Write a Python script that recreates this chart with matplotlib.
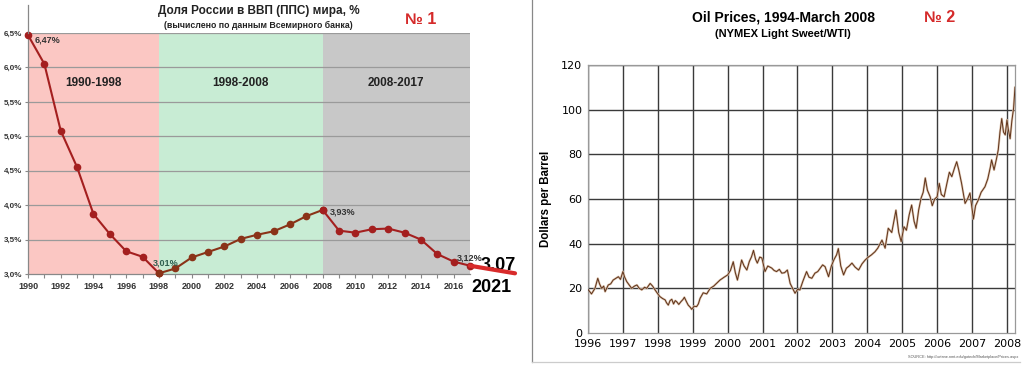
''' Russia share of world GDP (PPP) next to oil prices 1996-2008 '''
import matplotlib.pyplot as plt
from matplotlib.lines import Line2D

plt.rcParams['font.family'] = ['Liberation Sans', 'DejaVu Sans']

# Chart 1: Russia's share of world GDP (PPP), %
years = list(range(1990, 2018))
share = [6.47, 6.05, 5.08, 4.55, 3.87, 3.58, 3.33, 3.25, 3.01, 3.08,
         3.24, 3.32, 3.40, 3.51, 3.57, 3.62, 3.72, 3.84, 3.93, 3.63,
         3.60, 3.65, 3.66, 3.60, 3.50, 3.29, 3.18, 3.12]
periods = [(1990, 1998, '1990-1998'), (1998, 2008, '1998-2008'), (2008, 2017, '2008-2017')]
period_colors = ['#fbc7c3', '#c8ecd4', '#c8c8c8']
ext_x = [2017, 2019.75]     # hand drawn forecast tail
ext_y = [3.12, 3.01]

# Chart 2: oil prices, $ per barrel
oil_t = [1996.00, 1996.05, 1996.10, 1996.20, 1996.28, 1996.33, 1996.39, 1996.45, 1996.49, 1996.58,
         1996.65, 1996.72, 1996.80, 1996.87, 1996.93, 1997.00, 1997.05, 1997.11, 1997.18, 1997.25,
         1997.33, 1997.40, 1997.47, 1997.54, 1997.62, 1997.68, 1997.78, 1997.85, 1997.92, 1998.00,
         1998.06, 1998.13, 1998.21, 1998.25, 1998.30, 1998.35, 1998.40, 1998.45, 1998.50, 1998.54,
         1998.60, 1998.66, 1998.72, 1998.76, 1998.82, 1998.87, 1998.93, 1998.97, 1999.04, 1999.11,
         1999.16, 1999.21, 1999.30, 1999.40, 1999.50, 1999.60, 1999.70, 1999.78, 1999.90, 2000.00,
         2000.08, 2000.16, 2000.22, 2000.28, 2000.34, 2000.40, 2000.47, 2000.55, 2000.62, 2000.68,
         2000.74, 2000.80, 2000.85, 2000.92, 2000.98, 2001.07, 2001.15, 2001.26, 2001.33, 2001.40,
         2001.48, 2001.55, 2001.63, 2001.71, 2001.79, 2001.86, 2001.93, 2002.00, 2002.07, 2002.15,
         2002.26, 2002.33, 2002.41, 2002.50, 2002.58, 2002.65, 2002.72, 2002.79, 2002.89, 2002.97,
         2003.05, 2003.12, 2003.17, 2003.24, 2003.32, 2003.40, 2003.48, 2003.56, 2003.65, 2003.75,
         2003.85, 2003.94, 2004.03, 2004.12, 2004.22, 2004.30, 2004.42, 2004.51, 2004.60, 2004.70,
         2004.76, 2004.82, 2004.90, 2004.97, 2005.05, 2005.12, 2005.20, 2005.27, 2005.34, 2005.40,
         2005.47, 2005.54, 2005.60, 2005.66, 2005.72, 2005.80, 2005.86, 2005.93, 2006.00, 2006.06,
         2006.12, 2006.20, 2006.28, 2006.35, 2006.42, 2006.50, 2006.56, 2006.62, 2006.70, 2006.80,
         2006.87, 2006.94, 2007.04, 2007.10, 2007.18, 2007.26, 2007.37, 2007.45, 2007.52, 2007.56,
         2007.63, 2007.70, 2007.75, 2007.80, 2007.85, 2007.90, 2007.95, 2008.00, 2008.04, 2008.09,
         2008.14, 2008.19, 2008.23]
oil_p = [19.5, 18.5, 17.5, 20.0, 24.5, 22.0, 20.0, 21.0, 18.5, 21.5,
         22.0, 23.7, 24.5, 25.2, 24.0, 27.5, 25.0, 23.0, 21.5, 20.0,
         21.0, 21.5, 20.0, 19.3, 20.5, 20.0, 22.2, 21.0, 19.3, 17.5,
         16.3, 15.5, 14.8, 13.5, 12.5, 14.5, 15.1, 13.0, 14.5, 14.0,
         12.8, 14.0, 15.0, 16.0, 14.0, 12.5, 11.5, 10.6, 12.0, 11.8,
         13.0, 15.5, 18.0, 17.5, 20.0, 21.0, 22.5, 23.7, 25.0, 26.0,
         28.0, 31.9, 27.0, 23.7, 28.0, 32.7, 30.0, 28.2, 32.0, 34.0,
         37.0, 33.0, 31.3, 34.0, 33.6, 27.5, 30.0, 29.1, 28.0, 27.5,
         28.5, 26.8, 27.0, 28.2, 22.2, 20.0, 17.8, 19.5, 19.3, 23.0,
         27.5, 25.0, 24.5, 26.8, 27.5, 29.0, 30.5, 29.7, 25.2, 30.0,
         33.0, 35.0, 37.8, 30.0, 26.0, 29.0, 30.0, 31.3, 29.5, 28.2,
         31.0, 32.7, 34.0, 35.0, 36.4, 38.0, 41.6, 38.0, 46.9, 45.0,
         50.0, 55.0, 45.0, 40.9, 47.6, 46.0, 53.0, 57.3, 50.0, 46.9,
         55.0, 60.4, 63.0, 69.4, 64.0, 61.0, 57.0, 60.0, 61.0, 67.0,
         62.0, 61.0, 67.0, 72.0, 70.0, 74.0, 76.7, 73.0, 67.0, 58.0,
         60.0, 62.7, 51.0, 57.0, 59.6, 63.0, 65.5, 69.0, 74.0, 77.5,
         73.0, 78.0, 82.0, 90.0, 96.0, 90.0, 88.7, 95.4, 91.0, 87.0,
         95.0, 100.7, 110.0]
oil_years = list(range(1996, 2009))

W, H = 1027, 367
fig = plt.figure(figsize=(W / 100, H / 100), dpi=100)
fig.patch.set_facecolor('white')

def fx(px):
    return px / W

def fy(py):
    return 1 - py / H

# ---------------- chart 1 ----------------
ax1 = fig.add_axes([fx(28), fy(274), fx(470) - fx(28), fy(33) - fy(274)])
ax1.set_xlim(1990, 2017)
ax1.set_ylim(3.0, 6.5)
for (x0, x1, label), c in zip(periods, period_colors):
    ax1.axvspan(x0, x1, color=c, zorder=0, lw=0)
    ax1.text((x0 + x1) / 2, 5.77, label, ha='center', va='center',
             fontsize=8.5, fontweight='bold', color='#222222')
for v in [3.5, 4.0, 4.5, 5.0, 5.5, 6.0, 6.5]:
    ax1.axhline(v, color='#9a9a9a', lw=0.9, zorder=1)

line_colors = ['#a41f1f', '#8a3318', '#a41f1f']
for (x0, x1, _), c in zip(periods, line_colors):
    i0, i1 = years.index(x0), years.index(x1)
    ax1.plot(years[i0:i1 + 1], share[i0:i1 + 1], color=c, lw=1.5, zorder=3,
             marker='o', markersize=4.5, markerfacecolor=c, markeredgecolor=c,
             clip_on=False)
ax1.plot(ext_x, ext_y, color='#d82b2b', lw=3, solid_capstyle='round',
         zorder=4, clip_on=False)

ax1.text(1991.2, 6.40, '6,47%', ha='center', va='center', fontsize=6.5,
         fontweight='bold', color='#333333')
ax1.text(1998.4, 3.16, '3,01%', ha='center', va='center', fontsize=6.5,
         fontweight='bold', color='#2f5f4f')
ax1.text(2009.2, 3.90, '3,93%', ha='center', va='center', fontsize=6.5,
         fontweight='bold', color='#333333')
ax1.text(2017.0, 3.23, '3,12%', ha='center', va='center', fontsize=6.5,
         fontweight='bold', color='#333333', clip_on=False)
ax1.text(2018.7, 3.13, '3.07', ha='center', va='center', fontsize=13,
         fontweight='bold', color='black', clip_on=False)
ax1.text(2018.3, 2.80, '2021', ha='center', va='center', fontsize=13,
         fontweight='bold', color='black', clip_on=False)

ax1.set_xticks(years[:-1])
ax1.set_xticklabels([str(y) if y % 2 == 0 else '' for y in years[:-1]])
ax1.set_yticks([3.0, 3.5, 4.0, 4.5, 5.0, 5.5, 6.0, 6.5])
ax1.set_yticklabels(['3,0%', '3,5%', '4,0%', '4,5%', '5,0%', '5,5%', '6,0%', '6,5%'])
ax1.tick_params(axis='x', labelsize=6.5, colors='#333333', color='#888888',
                length=3, width=0.8, pad=3)
ax1.tick_params(axis='y', labelsize=5.8, colors='#333333', color='#888888',
                length=2, width=0.8, pad=2)
for lab in ax1.get_xticklabels() + ax1.get_yticklabels():
    lab.set_fontweight('bold')
for pos in ['top', 'right']:
    ax1.spines[pos].set_visible(False)
for pos in ['left', 'bottom']:
    ax1.spines[pos].set_color('#888888')
    ax1.spines[pos].set_linewidth(0.9)
# left axis line runs up past the plot area
fig.add_artist(Line2D([fx(28), fx(28)], [fy(33), fy(5)], color='#888888', lw=0.9))

fig.text(fx(259), fy(11), 'Доля России в ВВП (ППС) мира, %', ha='center',
         va='center', fontsize=8.5, fontweight='bold', color='#222222')
fig.text(fx(258), fy(25), '(вычислено по данным Всемирного банка)', ha='center',
         va='center', fontsize=6.3, fontweight='bold', color='#222222')
fig.text(fx(421), fy(20), '№ 1', ha='center', va='center', fontsize=11.5,
         fontweight='bold', color='#d52a2a')

# ---------------- chart 2 ----------------
ax2 = fig.add_axes([fx(588), fy(333), fx(1015) - fx(588), fy(65) - fy(333)])
ax2.set_xlim(1996, 2008.23)
ax2.set_ylim(0, 120)
for y in oil_years:
    ax2.axvline(y, color='#3a3a3a', lw=1.0, zorder=1)
for v in range(20, 121, 20):
    ax2.axhline(v, color='#3a3a3a', lw=1.0, zorder=1)
ax2.plot(oil_t, oil_p, color='#dcc3ad', lw=1.6, zorder=2)
ax2.plot(oil_t, oil_p, color='#5e321a', lw=0.7, zorder=3)
ax2.set_xticks(oil_years)
ax2.set_yticks(range(0, 121, 20))
ax2.tick_params(axis='both', labelsize=8, length=0, pad=4, colors='black')
for lab in ax2.get_xticklabels() + ax2.get_yticklabels():
    lab.set_family('DejaVu Sans')
for pos in ['top', 'right', 'left', 'bottom']:
    ax2.spines[pos].set_color('#999999')
    ax2.spines[pos].set_linewidth(0.9)
ax2.set_ylabel('Dollars per Barrel', fontsize=8.3, fontweight='bold', labelpad=7)

fig.text(fx(783), fy(17), 'Oil Prices, 1994-March 2008', ha='center',
         va='center', fontsize=10, fontweight='bold', color='black')
fig.text(fx(783), fy(34), '(NYMEX Light Sweet/WTI)', ha='center',
         va='center', fontsize=8, fontweight='bold', color='black')
fig.text(fx(940), fy(18), '№ 2', ha='center', va='center', fontsize=11.5,
         fontweight='bold', color='#d52a2a')
fig.text(fx(1018), fy(357), 'SOURCE: http://octane.nmt.edu/gotech/Marketplace/Prices.aspx',
         ha='right', va='center', fontsize=2.8, color='#555555')

# panel border of the second picture
fig.add_artist(Line2D([fx(532), fx(532)], [fy(0), fy(362)], color='#888888', lw=0.9))
fig.add_artist(Line2D([fx(532), fx(1020)], [fy(362), fy(362)], color='#cccccc', lw=0.9))

fig.savefig('out.png', dpi=100)
